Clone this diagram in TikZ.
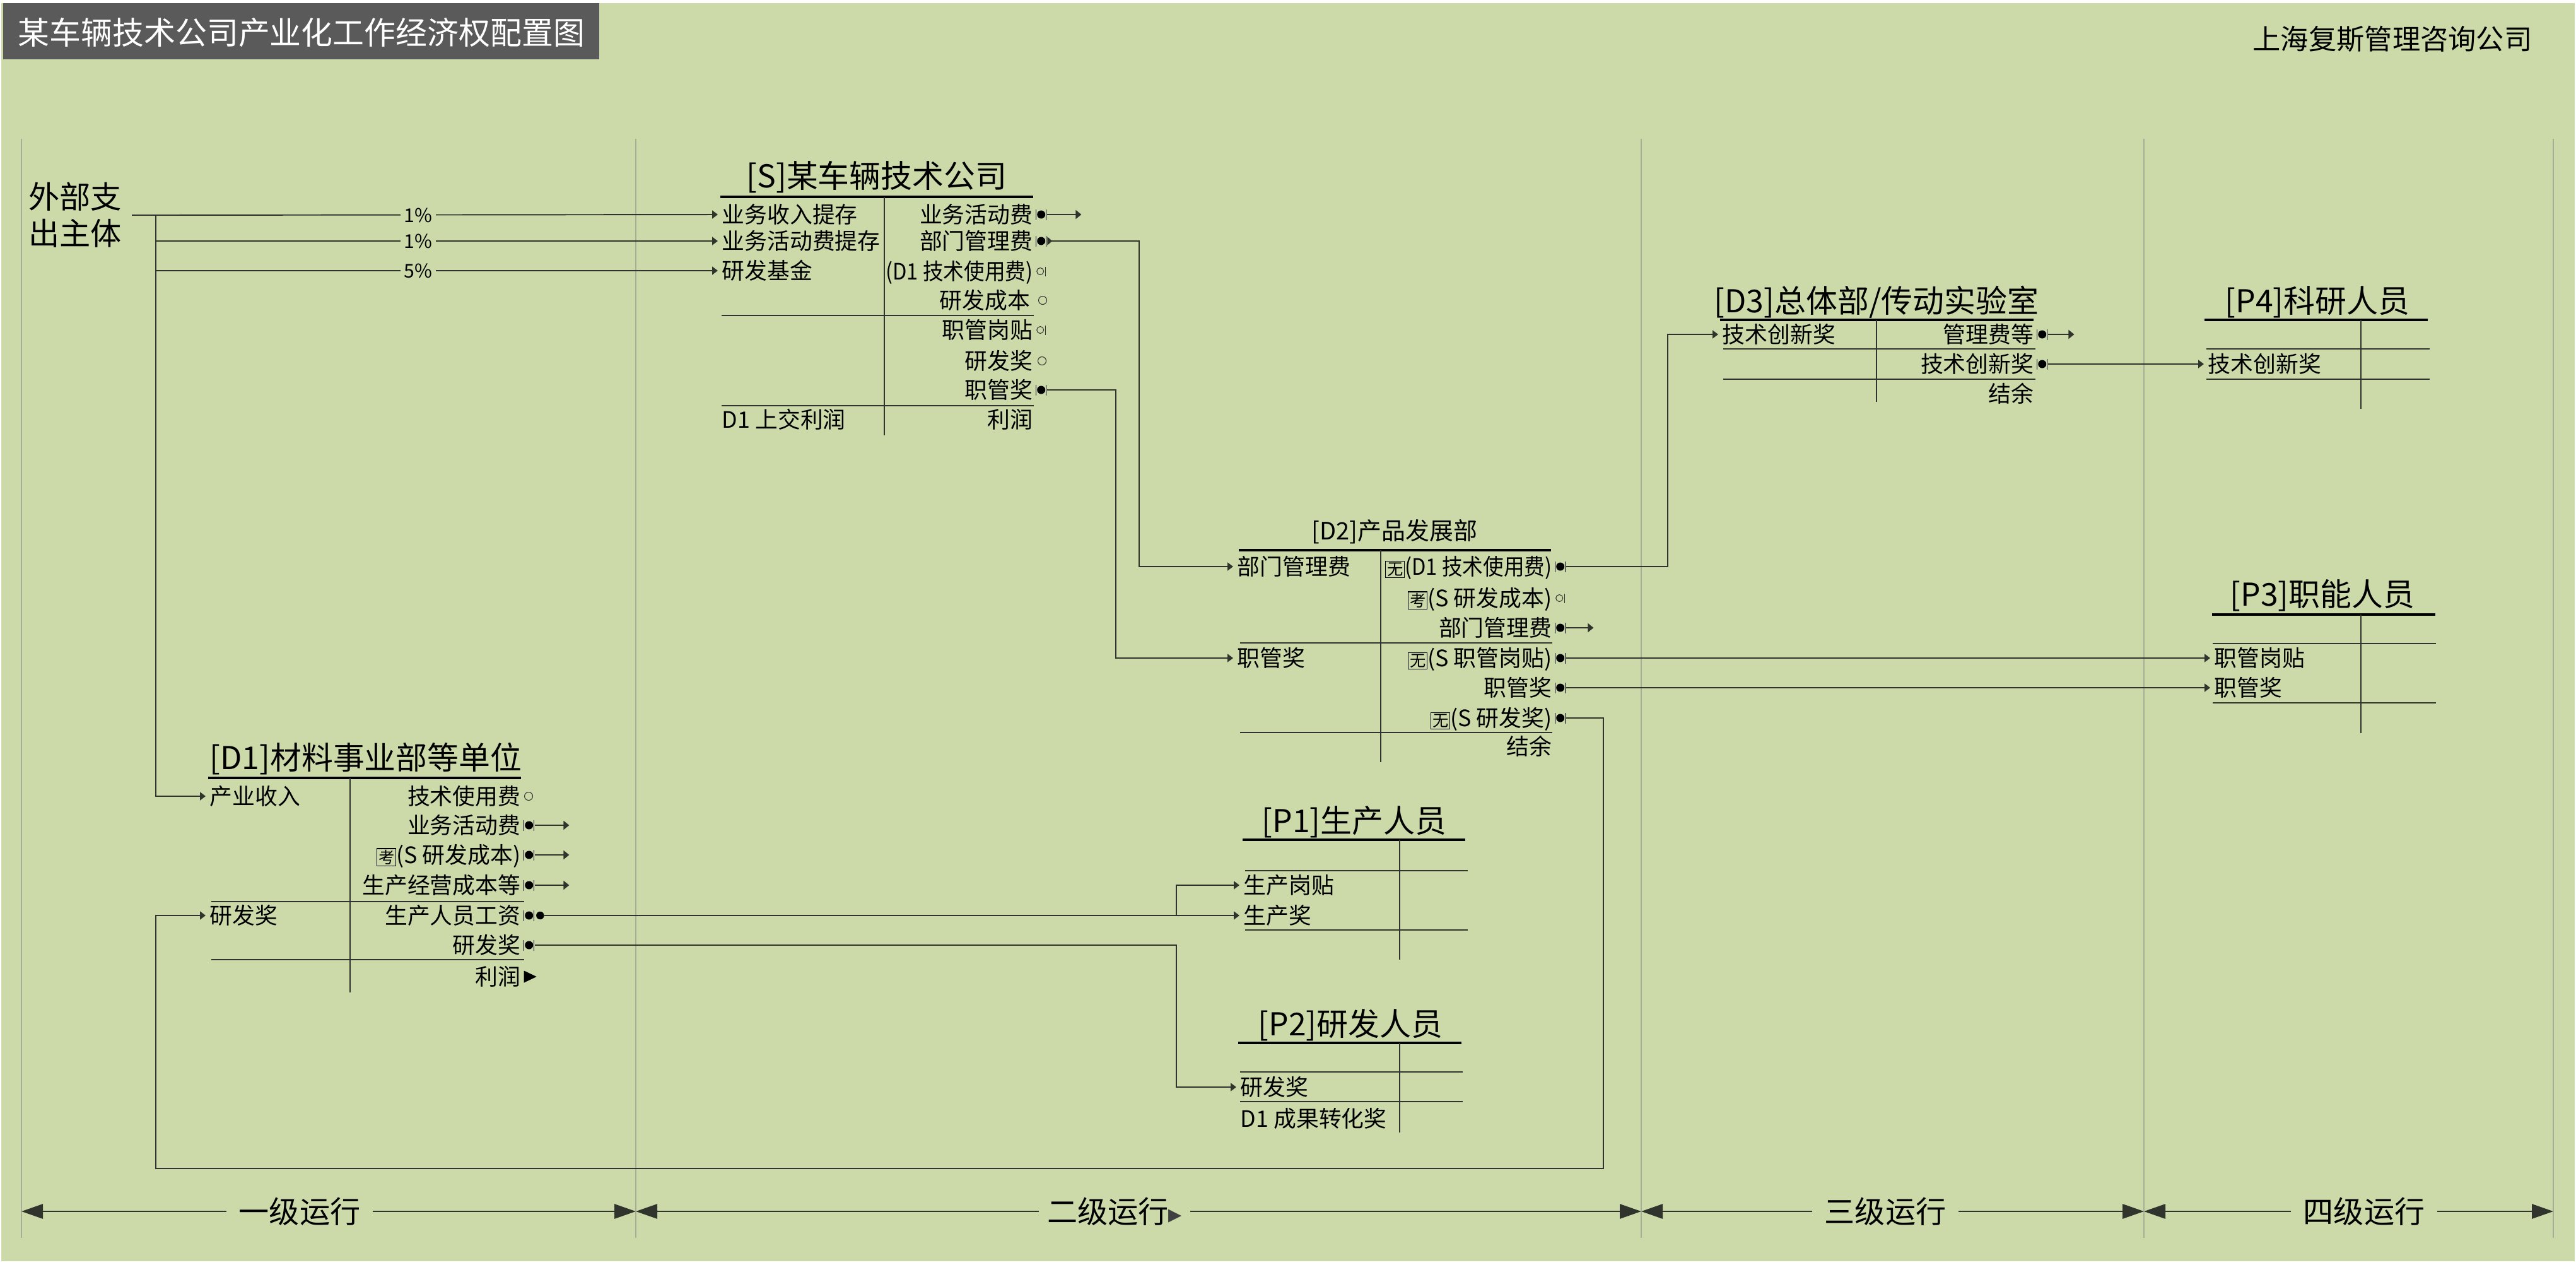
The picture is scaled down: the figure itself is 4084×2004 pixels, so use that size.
\documentclass[tikz,border=0pt]{standalone}
\usepackage{graphicx}
\usepackage{fontspec}
\setmainfont{Noto Sans CJK SC}
\newfontfamily\symfont{DejaVu Sans}
\usetikzlibrary{arrows.meta, positioning, shapes.geometric}
\definecolor{bgGreen}{RGB}{204,218,170}
\definecolor{barGray}{RGB}{90,90,90}
\definecolor{gridGray}{RGB}{165,175,152}
\definecolor{lineGray}{RGB}{48,52,44}
\newcommand{\boxch}[1]{{\setlength{\fboxsep}{0.5pt}\setlength{\fboxrule}{0.3pt}\fbox{\fontsize{7.2}{7.2}\selectfont #1}}}
\newcommand{\squeeze}[1]{\scalebox{0.91}[1]{#1}}

\tikzset{
  rowtxt/.style={inner sep=0pt, font=\fontsize{10.2}{12}\selectfont,
    text height=9pt, text depth=1.3pt},
  intxt/.style={rowtxt, anchor=west},
  outtxt/.style={rowtxt, anchor=east},
  tabhead/.style={inner sep=0pt, font=\fontsize{14.2}{16}\selectfont},
  headline/.style={line width=1.4pt},
  tabline/.style={lineGray, line width=0.45pt},
  link/.style={lineGray, line width=0.55pt},
  feed/.style={link, -{Triangle[length=0.9mm, width=1.3mm]}, shorten >=0.6mm},
  stub/.style={link, -{Triangle[length=0.9mm, width=1.4mm]}},
  pct/.style={fill=bgGreen, inner xsep=0.6mm, inner ysep=0pt,
    font=\fontsize{8.6}{9}\selectfont},
  dotmark/.style={inner sep=0pt, minimum width=1.8mm, minimum height=1.7mm,
    fill=bgGreen, path picture={
      \fill[black] (path picture bounding box.center) circle (0.65mm);
      \draw[black, line width=0.3pt]
        ([xshift=0.12mm]path picture bounding box.south west)
          -- ([xshift=0.12mm]path picture bounding box.north west)
        ([xshift=-0.12mm]path picture bounding box.south east)
          -- ([xshift=-0.12mm]path picture bounding box.north east);}},
  dotsec/.style={circle, fill=black, inner sep=0pt, minimum size=1.25mm},
  ringmark/.style={circle, draw=black!80, line width=0.3pt, inner sep=0pt,
    minimum size=1.3mm},
  ringtick/.style={inner sep=0pt, minimum width=1.6mm, minimum height=1.5mm,
    fill=bgGreen, path picture={
      \draw[black!80, line width=0.3pt]
        ([xshift=-0.15mm]path picture bounding box.center) circle (0.55mm);
      \draw[black!80, line width=0.3pt]
        ([xshift=-0.12mm]path picture bounding box.south east)
          -- ([xshift=-0.12mm]path picture bounding box.north east);}},
  endtri/.style={isosceles triangle, isosceles triangle stretches, fill=black,
    inner sep=0pt, minimum width=1.9mm, minimum height=2mm},
  ruler/.style={lineGray, line width=0.8pt,
    {Triangle[length=3.4mm, width=2.3mm]}-{Triangle[length=3.4mm, width=2.3mm]}},
  rulerlab/.style={fill=bgGreen, inner xsep=2mm, inner ysep=0pt,
    font=\fontsize{13.7}{15}\selectfont}
}

\begin{document}
\begin{tikzpicture}[x=0.1mm, y=-0.1mm]
\useasboundingbox (0,0) rectangle (4084,2004);
\fill[white] (0,0) rectangle (4084,2004);
\fill[bgGreen] (2,5) rectangle (4082,1999);
% title bar and firm
\fill[barGray] (5,5) rectangle (950,94);
\node[anchor=west, inner sep=0pt, text=white, font=\fontsize{14.2}{16}\selectfont]
  (title) at (28,52) {某车辆技术公司产业化工作经济权配置图};
\node[inner sep=0pt, font=\fontsize{12.6}{14}\selectfont] (firm) at (3793,62)
  {上海复斯管理咨询公司};
% level dividers
\foreach \xv in {34,1008,2602,3399,4048}
  \draw[gridGray, line width=0.35pt] (\xv,220) -- (\xv,1962);

% external payer
\node[inner xsep=1.5mm, inner ysep=0pt, align=left,
  font=\fontsize{14}{16.5}\selectfont] (ext) at (119,341) {外部支\\出主体};

% [S] company
\node[tabhead] (S) at (1390,281) {[S]某车辆技术公司};
\draw[headline] (1142,312) -- (1638,312);
\draw[tabline] (1402,312) -- (1402,690);
\draw[tabline] (1144,500) -- (1639,500);
\draw[tabline] (1144,643) -- (1639,643);
\node[intxt] (S-i1) at (1144,340) {业务收入提存};
\node[intxt] (S-i2) at (1144,382) {业务活动费提存};
\node[intxt] (S-i3) at (1144,429) {研发基金};
\node[intxt] (S-i4) at (1144,665) {D1 上交利润};
\node[outtxt] (S-o1) at (1638,340) {业务活动费};
\node[outtxt] (S-o2) at (1638,382) {部门管理费};
\node[outtxt] (S-o3) at (1638,430) {\squeeze{(D1 技术使用费)}};
\node[outtxt] (S-o4) at (1634,476) {研发成本};
\node[outtxt] (S-o5) at (1638,523) {职管岗贴};
\node[outtxt] (S-o6) at (1638,572) {研发奖};
\node[outtxt] (S-o7) at (1638,618) {职管奖};
\node[outtxt] (S-o8) at (1638,665) {利润};
\node[dotmark, right=0.3mm of S-o1] (S-o1m) {};
\node[dotmark, right=0.3mm of S-o2] (S-o2m) {};
\node[ringtick, right=0.4mm of S-o3] (S-o3m) {};
\node[ringmark, right=1.2mm of S-o4] (S-o4m) {};
\node[ringtick, right=0.4mm of S-o5] (S-o5m) {};
\node[ringmark, right=0.7mm of S-o6] (S-o6m) {};
\node[dotmark, right=0.3mm of S-o7] (S-o7m) {};

% [D2] product development
\node[tabhead, font=\fontsize{10.8}{12}\selectfont] (D2) at (2211,843) {[D2]产品发展部};
\draw[headline] (1964,872) -- (2459,872);
\draw[tabline] (2189,872) -- (2189,1208);
\draw[tabline] (1966,1019) -- (2461,1019);
\draw[tabline] (1966,1161) -- (2461,1161);
\node[intxt] (D2-i1) at (1961,898) {部门管理费};
\node[intxt] (D2-i2) at (1961,1043) {职管奖};
\node[outtxt] (D2-o1) at (2461,898) {\boxch{无}\squeeze{(D1 技术使用费)}};
\node[outtxt] (D2-o2) at (2461,948) {\boxch{考}(S 研发成本)};
\node[outtxt] (D2-o3) at (2461,995) {部门管理费};
\node[outtxt] (D2-o4) at (2461,1043) {\boxch{无}(S 职管岗贴)};
\node[outtxt] (D2-o5) at (2461,1090) {职管奖};
\node[outtxt] (D2-o6) at (2461,1138) {\boxch{无}(S 研发奖)};
\node[outtxt] (D2-o7) at (2461,1183) {结余};
\node[dotmark, right=0.3mm of D2-o1] (D2-o1m) {};
\node[ringtick, right=0.4mm of D2-o2] (D2-o2m) {};
\node[dotmark, right=0.3mm of D2-o3] (D2-o3m) {};
\node[dotmark, right=0.3mm of D2-o4] (D2-o4m) {};
\node[dotmark, right=0.3mm of D2-o5] (D2-o5m) {};
\node[dotmark, right=0.3mm of D2-o6] (D2-o6m) {};

% [D3] general department
\node[tabhead] (D3) at (2975,479) {[D3]总体部/传动实验室};
\draw[headline] (2727,507) -- (3224,507);
\draw[tabline] (2975,507) -- (2975,637);
\draw[tabline] (2732,553) -- (3227,553);
\draw[tabline] (2732,601) -- (3227,601);
\node[intxt] (D3-i1) at (2730,530) {技术创新奖};
\node[outtxt] (D3-o1) at (3225,530) {管理费等};
\node[outtxt] (D3-o2) at (3225,577) {技术创新奖};
\node[outtxt] (D3-o3) at (3225,624) {结余};
\node[dotmark, right=0.3mm of D3-o1] (D3-o1m) {};
\node[dotmark, right=0.3mm of D3-o2] (D3-o2m) {};

% [P4] research staff
\node[tabhead] (P4) at (3674,479) {[P4]科研人员};
\draw[headline] (3495,507) -- (3849,507);
\draw[tabline] (3743,507) -- (3743,648);
\draw[tabline] (3498,553) -- (3852,553);
\draw[tabline] (3498,601) -- (3852,601);
\node[intxt] (P4-i1) at (3500,577) {技术创新奖};

% [P3] functional staff
\node[tabhead] (P3) at (3682,944) {[P3]职能人员};
\draw[headline] (3507,974) -- (3861,974);
\draw[tabline] (3743,974) -- (3743,1162);
\draw[tabline] (3508,1020) -- (3862,1020);
\draw[tabline] (3508,1114) -- (3862,1114);
\node[intxt] (P3-i1) at (3510,1043) {职管岗贴};
\node[intxt] (P3-i2) at (3510,1090) {职管奖};

% [D1] materials division
\node[tabhead] (D1) at (580,1203) {[D1]材料事业部等单位};
\draw[headline] (330,1233) -- (826,1233);
\draw[tabline] (555,1233) -- (555,1573);
\draw[tabline] (335,1429) -- (831,1429);
\draw[tabline] (335,1521) -- (831,1521);
\node[intxt] (D1-i1) at (332,1262) {产业收入};
\node[intxt] (D1-i2) at (332,1451) {研发奖};
\node[outtxt] (D1-o1) at (826,1262) {技术使用费};
\node[outtxt] (D1-o2) at (826,1308) {业务活动费};
\node[outtxt] (D1-o3) at (826,1355) {\boxch{考}(S 研发成本)};
\node[outtxt] (D1-o4) at (826,1403) {生产经营成本等};
\node[outtxt] (D1-o5) at (826,1451) {生产人员工资};
\node[outtxt] (D1-o6) at (826,1498) {研发奖};
\node[outtxt] (D1-o7) at (826,1548) {利润};
\node[ringmark, right=0.5mm of D1-o1] (D1-o1m) {};
\node[dotmark, right=0.3mm of D1-o2] (D1-o2m) {};
\node[dotmark, right=0.3mm of D1-o3] (D1-o3m) {};
\node[dotmark, right=0.3mm of D1-o4] (D1-o4m) {};
\node[dotmark, right=0.3mm of D1-o5] (D1-o5m) {};
\node[dotsec, right=0.1mm of D1-o5m] (D1-o5n) {};
\node[dotmark, right=0.3mm of D1-o6] (D1-o6m) {};
\node[endtri, right=0.4mm of D1-o7] (D1-o7m) {};

% [P1] production staff
\node[tabhead] (P1) at (2147,1303) {[P1]生产人员};
\draw[headline] (1970,1331) -- (2323,1331);
\draw[tabline] (2219,1331) -- (2219,1521);
\draw[tabline] (1974,1380) -- (2327,1380);
\draw[tabline] (1974,1474) -- (2327,1474);
\node[intxt] (P1-i1) at (1971,1403) {生产岗贴};
\node[intxt] (P1-i2) at (1971,1451) {生产奖};

% [P2] R&D staff
\node[tabhead] (P2) at (2141,1625) {[P2]研发人员};
\draw[headline] (1963,1653) -- (2317,1653);
\draw[tabline] (2219,1653) -- (2219,1795);
\draw[tabline] (1966,1699) -- (2319,1699);
\draw[tabline] (1966,1746) -- (2319,1746);
\node[intxt] (P2-i1) at (1966,1723) {研发奖};
\node[intxt] (P2-i2) at (1966,1773) {D1 成果转化奖};

% bend points
\coordinate (extj) at (247,341);
\coordinate (bendA) at (1806,0);
\coordinate (bendB) at (1769,0);
\coordinate (bendC) at (2644,0);
\coordinate (bendD) at (1865,0);
\coordinate (loopR) at (2542,1852);
\coordinate (loopL) at (247,1852);

% external money in
\draw[link, line width=0.8pt] (ext) -- (extj);
\draw[feed] (extj) -- (S-i1.west);
\draw[feed] (extj) |- (S-i2.west);
\draw[feed] (extj) |- (S-i3.west);
\draw[feed] (extj) |- (D1-i1.west);
\node[pct] (pct1) at (663,341) {1\%};
\node[pct] (pct2) at (663,382) {1\%};
\node[pct] (pct3) at (663,429) {5\%};

% S outflows
\coordinate[right=5.4mm of S-o1m] (S-o1e);
\draw[stub] (S-o1m) -- (S-o1e);
\draw[feed, {Triangle[reversed, length=0.8mm, width=1.3mm]}-{Triangle[length=0.9mm, width=1.3mm]}]
  (S-o2m) -| (bendA |- D2-i1.west) -- (D2-i1.west);
\draw[feed] (S-o7m) -| (bendB |- D2-i2.west) -- (D2-i2.west);

% D2 outflows
\draw[feed] (D2-o1m) -| (bendC |- D3-i1.west) -- (D3-i1.west);
\coordinate[right=4.3mm of D2-o3m] (D2-o3e);
\draw[stub] (D2-o3m) -- (D2-o3e);
\draw[feed] (D2-o4m) -- (P3-i1.west);
\draw[feed] (D2-o5m) -- (P3-i2.west);
\draw[feed] (D2-o6m) -| (loopR) -- (loopL) |- (D1-i2.west);

% D3 outflows
\coordinate[right=4.1mm of D3-o1m] (D3-o1e);
\draw[stub] (D3-o1m) -- (D3-o1e);
\draw[feed] (D3-o2m) -- (P4-i1.west);

% D1 outflows
\coordinate[right=5.4mm of D1-o2m] (D1-o2e);
\coordinate[right=5.4mm of D1-o3m] (D1-o3e);
\coordinate[right=5.4mm of D1-o4m] (D1-o4e);
\draw[stub] (D1-o2m) -- (D1-o2e);
\draw[stub] (D1-o3m) -- (D1-o3e);
\draw[stub] (D1-o4m) -- (D1-o4e);
\draw[feed] (D1-o5n) -- (P1-i2.west);
\coordinate (splitP) at (bendD |- D1-o5n);
\draw[feed] (splitP) |- (P1-i1.west);
\draw[feed] (D1-o6m) -| (bendD |- P2-i1.west) -- (P2-i1.west);

% operating levels
\coordinate (rul0) at (34,1920);
\coordinate (rul1) at (1008,1920);
\coordinate (rul2) at (2602,1920);
\coordinate (rul3) at (3399,1920);
\coordinate (rul4) at (4048,1920);
\draw[ruler] (rul0) -- (rul1);
\draw[ruler] (rul1) -- (rul2);
\draw[ruler] (rul2) -- (rul3);
\draw[ruler] (rul3) -- (rul4);
\node[rulerlab] (lv1) at (475,1920) {一级运行};
\node[rulerlab, inner xsep=1.3mm] (lv2) at (1767,1920)
  {二级运行{\symfont\fontsize{12}{12}\selectfont\color{black!75}▸}};
\node[rulerlab] (lv3) at (2989,1920) {三级运行};
\node[rulerlab] (lv4) at (3748,1920) {四级运行};
\end{tikzpicture}
\end{document}
